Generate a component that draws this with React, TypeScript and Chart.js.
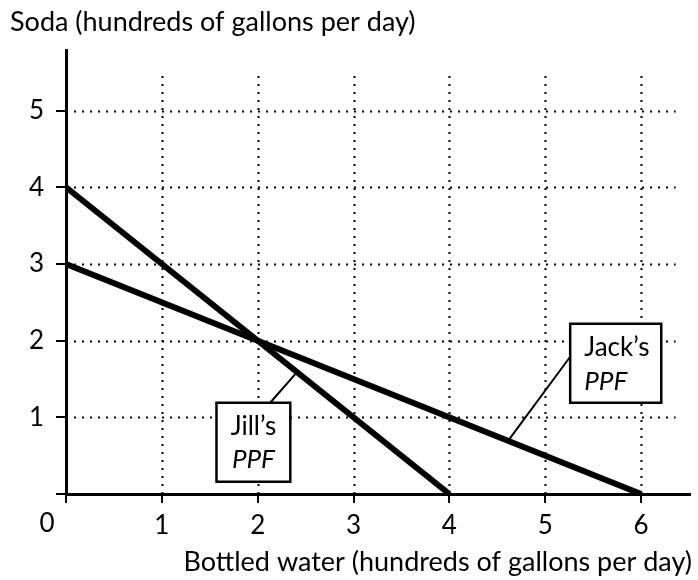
import React, { useEffect, useRef } from "react";
import { Chart, registerables } from "chart.js";

Chart.register(...registerables);

// Data
const jillX = [0, 4];
const jillY = [4, 0];
const jackX = [0, 6];
const jackY = [3, 0];
const xTicks = [0, 1, 2, 3, 4, 5, 6];
const yTicks = [0, 1, 2, 3, 4, 5];
const yTitle = "Soda (hundreds of gallons per day)";
const xTitle = "Bottled water (hundreds of gallons per day)";
const jillLabel = ["Jill\u2019s", "PPF"];
const jackLabel = ["Jack\u2019s", "PPF"];

const FONT = "Lato, 'Open Sans', sans-serif";

const overlayPlugin = {
  id: "overlay",
  beforeDatasetsDraw(chart: any) {
    const { ctx, scales } = chart;
    const xs = scales.x;
    const ys = scales.y;
    ctx.save();
    ctx.strokeStyle = "#000";
    ctx.lineWidth = 2;
    ctx.setLineDash([2, 6]);
    const gridTopY = ys.getPixelForValue(5.53);
    const gridRightX = xs.getPixelForValue(6.36);
    xTicks.forEach((v) => {
      if (v === 0) return;
      const px = Math.round(xs.getPixelForValue(v)) + 0.5;
      ctx.beginPath();
      ctx.moveTo(px, ys.getPixelForValue(0));
      ctx.lineTo(px, gridTopY);
      ctx.stroke();
    });
    yTicks.forEach((v) => {
      if (v === 0) return;
      const py = Math.round(ys.getPixelForValue(v)) + 0.5;
      ctx.beginPath();
      ctx.moveTo(xs.getPixelForValue(0), py);
      ctx.lineTo(gridRightX, py);
      ctx.stroke();
    });
    ctx.restore();
  },
  afterDraw(chart: any) {
    const { ctx, scales } = chart;
    const xs = scales.x;
    const ys = scales.y;
    const X = (v: number) => xs.getPixelForValue(v);
    const Y = (v: number) => ys.getPixelForValue(v);
    ctx.save();
    ctx.fillStyle = "#000";
    ctx.strokeStyle = "#000";
    ctx.setLineDash([]);

    // titles
    ctx.font = `27px ${FONT}`;
    ctx.textBaseline = "alphabetic";
    ctx.textAlign = "left";
    ctx.fillText(yTitle, 10, 31);
    ctx.textAlign = "right";
    ctx.fillText(xTitle, 692, 571);

    // origin label
    ctx.textAlign = "center";
    ctx.textBaseline = "middle";
    ctx.font = `26px ${FONT}`;
    ctx.fillText("0", X(0) - 19, Y(0) + 30);

    // leader lines
    ctx.lineWidth = 2;
    ctx.beginPath();
    ctx.moveTo(X(2.13), Y(1.19));
    ctx.lineTo(X(2.41), Y(1.59));
    ctx.moveTo(X(5.26), Y(1.79));
    ctx.lineTo(X(4.61), Y(0.69));
    ctx.stroke();

    const box = (x0: number, y1: number, x1: number, y0: number, lines: string[], align: "center" | "left") => {
      const l = X(x0), r = X(x1), t = Y(y1), b = Y(y0);
      ctx.fillStyle = "#fff";
      ctx.fillRect(l, t, r - l, b - t);
      ctx.lineWidth = 2.5;
      ctx.strokeRect(l, t, r - l, b - t);
      ctx.fillStyle = "#000";
      ctx.textBaseline = "middle";
      const h = b - t;
      if (align === "center") {
        ctx.textAlign = "center";
        const cx = (l + r) / 2;
        ctx.font = `26px ${FONT}`;
        ctx.fillText(lines[0], cx, t + h * 0.3);
        ctx.font = `italic 26px ${FONT}`;
        ctx.fillText(lines[1], cx, t + h * 0.72);
      } else {
        ctx.textAlign = "left";
        ctx.font = `26px ${FONT}`;
        ctx.fillText(lines[0], l + 14, t + h * 0.3);
        ctx.font = `italic 26px ${FONT}`;
        ctx.fillText(lines[1], l + 14, t + h * 0.73);
      }
    };
    box(1.57, 1.19, 2.34, 0.16, jillLabel, "center");
    box(5.26, 2.22, 6.21, 1.19, jackLabel, "left");
    ctx.restore();
  },
};

export default function App() {
  const ref = useRef<HTMLCanvasElement | null>(null);
  useEffect(() => {
    if (!ref.current) return;
    const chart = new Chart(ref.current, {
      type: "scatter",
      data: {
        datasets: [
          {
            label: "Jill's PPF",
            data: jillX.map((x, i) => ({ x, y: jillY[i] })),
            showLine: true,
            borderColor: "#000",
            borderWidth: 6,
            pointRadius: 0,
          },
          {
            label: "Jack's PPF",
            data: jackX.map((x, i) => ({ x, y: jackY[i] })),
            showLine: true,
            borderColor: "#000",
            borderWidth: 6,
            pointRadius: 0,
          },
        ],
      },
      options: {
        animation: false,
        responsive: false,
        maintainAspectRatio: false,
        layout: { padding: { top: 50, right: 8, left: 0, bottom: 0 } },
        plugins: { legend: { display: false }, tooltip: { enabled: false }, title: { display: false } },
        scales: {
          x: {
            type: "linear",
            min: 0,
            max: 6.51,
            afterBuildTicks: (s: any) => {
              s.ticks = xTicks.map((v) => ({ value: v }));
            },
            afterFit: (s: any) => {
              s.height = 86;
            },
            grid: { drawOnChartArea: false, drawTicks: true, tickLength: 9, color: "#000", lineWidth: 2 },
            border: { display: true, color: "#000", width: 3 },
            ticks: {
              color: "#000",
              padding: 7,
              maxRotation: 0,
              font: { family: FONT, size: 26 },
              callback: (v: any) => (v === 0 ? "" : String(v)),
            },
          },
          y: {
            type: "linear",
            min: 0,
            max: 5.79,
            afterBuildTicks: (s: any) => {
              s.ticks = yTicks.map((v) => ({ value: v }));
            },
            afterFit: (s: any) => {
              s.width = 66;
            },
            grid: { drawOnChartArea: false, drawTicks: true, tickLength: 10, color: "#000", lineWidth: 2 },
            border: { display: true, color: "#000", width: 3 },
            ticks: {
              color: "#000",
              padding: 12,
              font: { family: FONT, size: 26 },
              callback: (v: any) => (v === 0 ? "" : String(v)),
            },
          },
        },
      },
      plugins: [overlayPlugin],
    });
    return () => chart.destroy();
  }, []);
  return (
    <div style={{ position: "fixed", left: 0, top: 0, width: 698, height: 580, background: "#fff" }}>
      <canvas ref={ref} width={698} height={580} style={{ width: 698, height: 580, display: "block" }} />
    </div>
  );
}
